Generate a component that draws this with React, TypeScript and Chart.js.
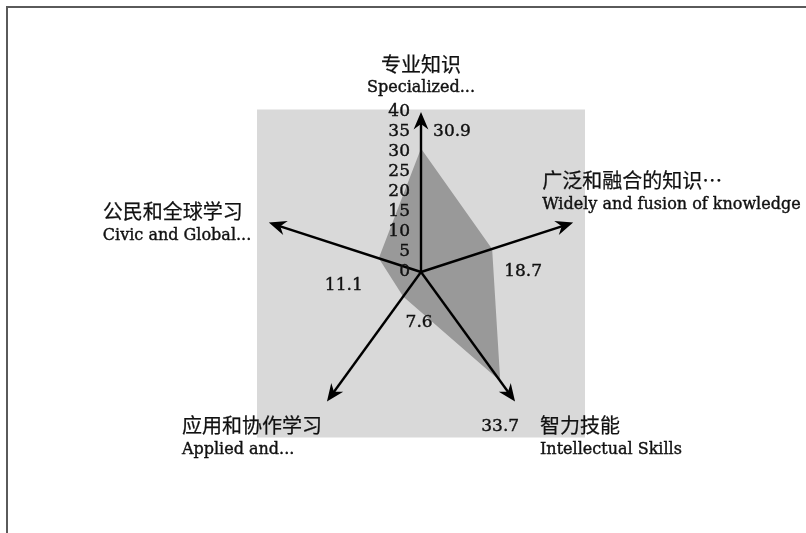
import React, { useEffect, useRef } from "react";
import { Chart, registerables } from "chart.js";

Chart.register(...registerables);

// ---------- data ----------
const CATEGORIES_ZH = ["专业知识", "广泛和融合的知识…", "智力技能", "应用和协作学习", "公民和全球学习"];
const CATEGORIES_EN = [
  "Specialized...",
  "Widely and fusion of knowledge",
  "Intellectual Skills",
  "Applied and...",
  "Civic and Global...",
];
const VALUES = [30.9, 18.7, 33.7, 7.6, 11.1];
const TICK_VALUES = [0, 5, 10, 15, 20, 25, 30, 35, 40];
const AXIS_MIN = 0;
const AXIS_MAX = 40;

// ---------- layout / style ----------
const SERIF = "'DejaVu Serif', 'Noto Sans CJK SC', serif";
const CJK = "'Noto Sans CJK SC', sans-serif";
const TEXT_COLOR = "#111111";
const PANEL_COLOR = "#d9d9d9";
const AREA_COLOR = "#999999";

// category label offsets relative to each arrow tip
const POINT_LABEL_LAYOUT: { dx: number; dy: number; align: CanvasTextAlign }[] = [
  { dx: 0, dy: -48, align: "center" },
  { dx: -31, dy: -42, align: "left" },
  { dx: 25, dy: 24, align: "left" },
  { dx: -145, dy: 24, align: "left" },
  { dx: -166, dy: -11, align: "left" },
];
const LINE_GAP = 24;
// value label offsets relative to each data point
const VALUE_LABEL_OFFSETS = [
  [31, -17],
  [31, 23],
  [0, 46],
  [16, 26],
  [-35, 27],
];

function drawArrow(ctx: CanvasRenderingContext2D, x0: number, y0: number, x1: number, y1: number) {
  const ang = Math.atan2(y1 - y0, x1 - x0);
  ctx.beginPath();
  ctx.moveTo(x0, y0);
  ctx.lineTo(x1 - Math.cos(ang) * 8, y1 - Math.sin(ang) * 8);
  ctx.stroke();
  const len = 19;
  const wing = 0.4;
  const notch = 12;
  ctx.beginPath();
  ctx.moveTo(x1, y1);
  ctx.lineTo(x1 - len * Math.cos(ang - wing), y1 - len * Math.sin(ang - wing));
  ctx.lineTo(x1 - notch * Math.cos(ang), y1 - notch * Math.sin(ang));
  ctx.lineTo(x1 - len * Math.cos(ang + wing), y1 - len * Math.sin(ang + wing));
  ctx.closePath();
  ctx.fill();
}

function boldText(ctx: CanvasRenderingContext2D, t: string, x: number, y: number) {
  ctx.fillText(t, x, y);
  ctx.strokeText(t, x, y);
}

const decorPlugin = {
  id: "decor",
  beforeDatasetsDraw(chart: any) {
    const s = chart.scales.r;
    const ctx: CanvasRenderingContext2D = chart.ctx;
    const half = s.drawingArea + 4;
    ctx.save();
    ctx.fillStyle = PANEL_COLOR;
    ctx.fillRect(s.xCenter - half, s.yCenter - half + 1.5, half * 2, half * 2);
    ctx.restore();
  },
  afterDatasetsDraw(chart: any) {
    const s = chart.scales.r;
    const ctx: CanvasRenderingContext2D = chart.ctx;
    ctx.save();
    // axes with arrows
    ctx.strokeStyle = "#000";
    ctx.fillStyle = "#000";
    ctx.lineWidth = 2.4;
    for (let i = 0; i < CATEGORIES_ZH.length; i++) {
      const tip = s.getPointPositionForValue(i, AXIS_MAX);
      drawArrow(ctx, s.xCenter, s.yCenter, tip.x, tip.y);
    }
    // tick labels
    ctx.fillStyle = TEXT_COLOR;
    ctx.strokeStyle = TEXT_COLOR;
    ctx.lineWidth = 0.4;
    ctx.font = `17px ${SERIF}`;
    ctx.textAlign = "right";
    ctx.textBaseline = "middle";
    for (const v of TICK_VALUES) {
      const p = s.getPointPositionForValue(0, v);
      boldText(ctx, String(v), p.x - 11, p.y);
    }
    // value labels
    ctx.textAlign = "center";
    VALUES.forEach((v, i) => {
      const p = s.getPointPositionForValue(i, v);
      const [dx, dy] = VALUE_LABEL_OFFSETS[i];
      boldText(ctx, v.toFixed(1), p.x + dx, p.y + dy);
    });
    // category labels
    CATEGORIES_ZH.forEach((zh, i) => {
      const tip = s.getPointPositionForValue(i, AXIS_MAX);
      const L = POINT_LABEL_LAYOUT[i];
      ctx.textAlign = L.align;
      ctx.font = `20px ${CJK}`;
      ctx.lineWidth = 0.25;
      boldText(ctx, zh, tip.x + L.dx, tip.y + L.dy);
      ctx.font = `16px ${SERIF}`;
      ctx.lineWidth = 0.4;
      boldText(ctx, CATEGORIES_EN[i], tip.x + L.dx, tip.y + L.dy + LINE_GAP);
    });
    ctx.restore();
  },
};

export default function App() {
  const ref = useRef<HTMLCanvasElement | null>(null);
  useEffect(() => {
    if (!ref.current) return;
    const chart = new Chart(ref.current, {
      type: "radar",
      data: {
        labels: CATEGORIES_EN,
        datasets: [
          {
            data: VALUES,
            fill: true,
            backgroundColor: AREA_COLOR,
            borderWidth: 0,
            borderColor: "rgba(0,0,0,0)",
            pointRadius: 0,
            pointHoverRadius: 0,
          },
        ],
      },
      options: {
        responsive: false,
        maintainAspectRatio: false,
        animation: false,
        layout: { padding: { left: 261, right: 225, top: 112, bottom: 101 } },
        plugins: { legend: { display: false }, tooltip: { enabled: false } },
        scales: {
          r: {
            min: AXIS_MIN,
            max: AXIS_MAX,
            ticks: { display: false, stepSize: 5 },
            grid: { display: false },
            angleLines: { display: false },
            pointLabels: { display: false },
          },
        },
      },
      plugins: [decorPlugin],
    });
    return () => chart.destroy();
  }, []);
  return (
    <div style={{ position: "fixed", left: 0, top: 0, width: 806, height: 533, background: "#fff", overflow: "hidden" }}>
      <canvas ref={ref} width={806} height={533} style={{ position: "absolute", left: 0, top: 0, width: 806, height: 533 }} />
      <div
        style={{
          position: "absolute",
          left: 6,
          top: 6,
          width: 820,
          height: 540,
          borderTop: "2px solid #5a5a5a",
          borderLeft: "2px solid #5a5a5a",
          pointerEvents: "none",
        }}
      />
    </div>
  );
}
